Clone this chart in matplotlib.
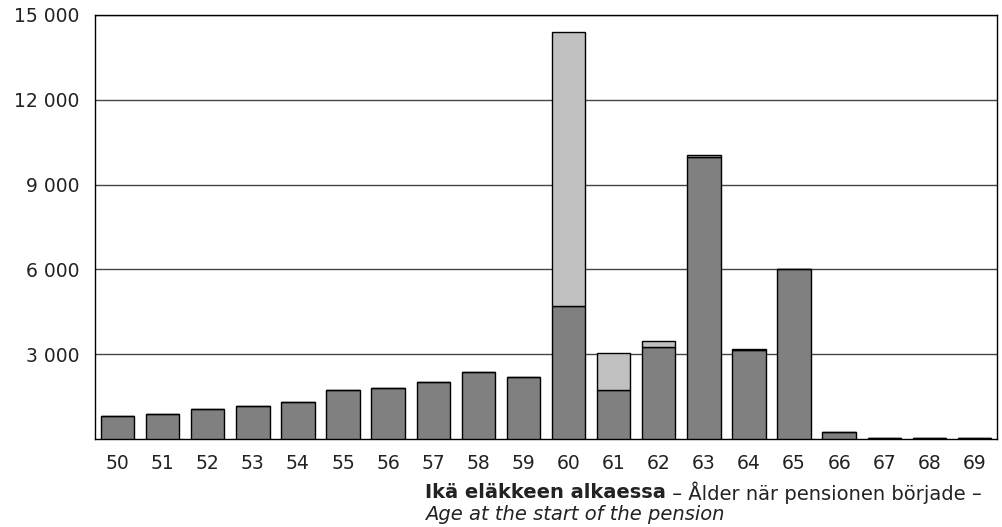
import numpy as np
import matplotlib
matplotlib.use("Agg")
from matplotlib import pyplot as plt

# ages and number of new pensions
ages = [str(a) for a in range(50, 70)]
dark_values = [820, 870, 1070, 1150, 1320, 1720, 1800, 2000, 2370, 2200,
               4720, 1750, 3260, 9980, 3140, 6020, 260, 30, 30, 30]
light_values = [0, 0, 0, 0, 0, 0, 0, 0, 0, 0,
                9690, 1310, 190, 60, 50, 0, 0, 0, 0, 0]
y_ticks = [3000, 6000, 9000, 12000, 15000]
y_tick_labels = ["3 000", "6 000", "9 000", "12 000", "15 000"]

plt.rcParams['font.family'] = ['DejaVu Sans']

fig = plt.figure(figsize=(10.03, 5.27), dpi=100)
ax = fig.add_axes([95 / 1003, 1 - 439 / 527, 902 / 1003, 424 / 527])

x = np.arange(len(ages))
ax.bar(x, dark_values, width=0.74, color='#808080', edgecolor='black', linewidth=1.0, zorder=3)
ax.bar(x, light_values, width=0.74, bottom=dark_values, color='#c0c0c0',
       edgecolor='black', linewidth=1.0, zorder=3)

ax.set_xlim(-0.5, len(ages) - 0.5)
ax.set_ylim(0, 15000)
ax.set_yticks(y_ticks)
ax.set_yticklabels(y_tick_labels, fontsize=13.5, color='#222222')
ax.set_xticks(x)
ax.set_xticklabels(ages, fontsize=13.5, color='#222222')
ax.tick_params(axis='y', length=0, pad=11)
ax.tick_params(axis='x', length=0, pad=11)
ax.grid(axis='y', color='#444444', linewidth=1.0, zorder=0)
for s in ax.spines.values():
    s.set_color('black')
    s.set_linewidth(1.0)

# axis title: bold + normal on first line, italic second line
t1 = fig.text(425 / 1003, 1 - 493 / 527, "Ikä eläkkeen alkaessa", fontsize=14,
              fontweight='bold', color='#222222', va='center', ha='left')
fig.canvas.draw()
bb = t1.get_window_extent()
fig.text(bb.x1 / 1003, 1 - 493 / 527, " – Ålder när pensionen började –", fontsize=14,
         color='#222222', va='center', ha='left')
fig.text(425 / 1003, 1 - 514 / 527, "Age at the start of the pension", fontsize=14,
         style='italic', color='#222222', va='center', ha='left')

plt.savefig('out.png', dpi=100)
